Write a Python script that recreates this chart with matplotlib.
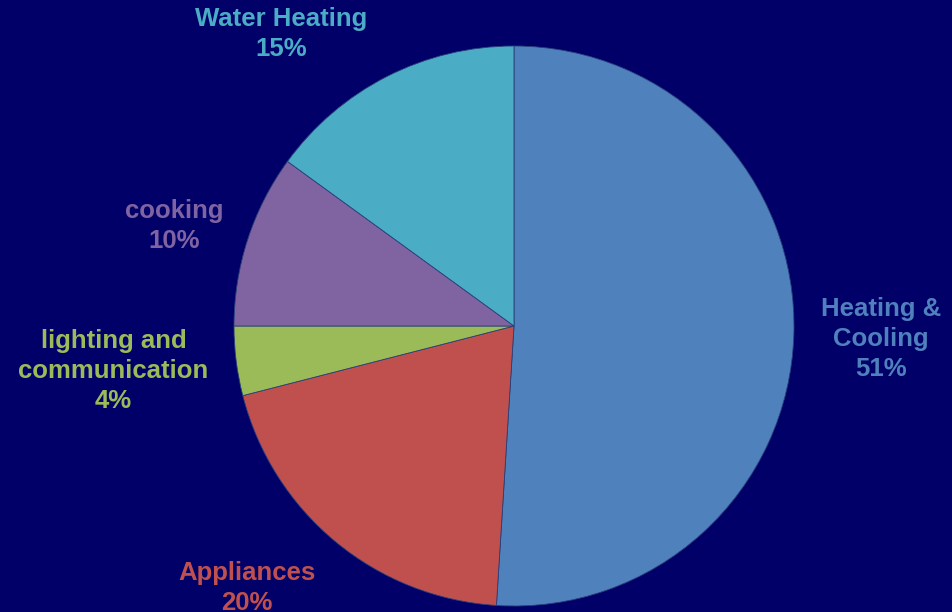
import matplotlib.pyplot as plt

# energy use shares
labels = ['Heating &\nCooling', 'Appliances', 'lighting and\ncommunication', 'cooking', 'Water Heating']
values = [51, 20, 4, 10, 15]
colors = ['#4F81BD', '#C0504D', '#9BBB59', '#8064A2', '#4BACC6']
bg = '#000068'

plt.rcParams['font.family'] = ['Liberation Sans', 'DejaVu Sans']

fig = plt.figure(figsize=(9.53, 6.12), dpi=100, facecolor=bg)
ax = fig.add_axes([0, 0, 1, 1])
ax.set_facecolor(bg)

wedges, _ = ax.pie(values, colors=colors, startangle=90, counterclock=False,
                   radius=1.0, center=(0, 0),
                   wedgeprops=dict(edgecolor='#2a3f7a', linewidth=0.6))

# label spots, in pie-radius units
label_xy = [(1.31, -0.045), (-0.954, -0.935), (-1.43, -0.16), (-1.214, 0.357), (-0.832, 1.042)]
for lab, v, c, (x, y) in zip(labels, values, colors, label_xy):
    ax.text(x, y, f'{lab}\n{v}%', color=c, ha='center', va='center',
            fontsize=18.5, fontweight='bold', linespacing=1.32)

ax.set_xlim(-514 / 280, (953 - 514) / 280)
ax.set_ylim((326 - 612) / 280, 326 / 280)
ax.set_aspect('equal')
ax.axis('off')

fig.savefig('out.png', dpi=100, facecolor=bg)
